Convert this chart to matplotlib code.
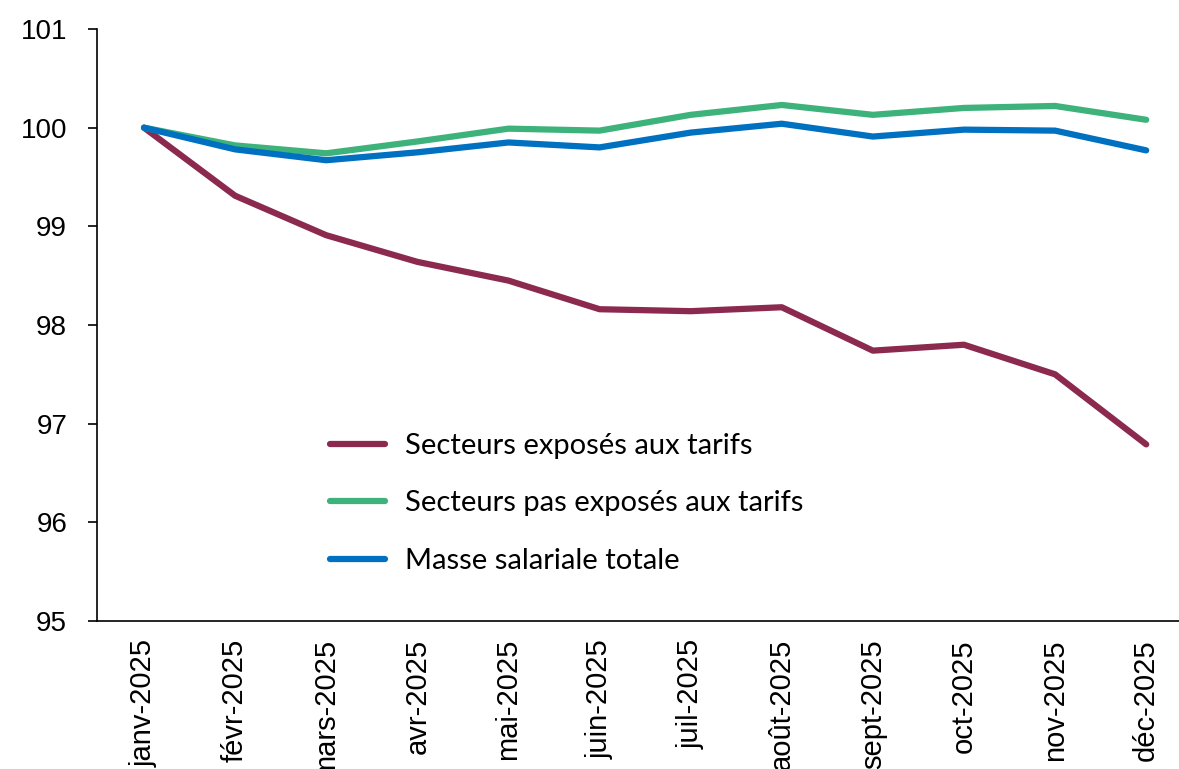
import numpy as np
import matplotlib.pyplot as plt

plt.rcParams['font.family'] = ['Liberation Sans', 'DejaVu Sans']

mois = ['janv-2025', 'févr-2025', 'mars-2025', 'avr-2025', 'mai-2025', 'juin-2025',
        'juil-2025', 'août-2025', 'sept-2025', 'oct-2025', 'nov-2025', 'déc-2025']

exposes = [100.0, 99.31, 98.91, 98.64, 98.45, 98.16, 98.14, 98.18, 97.74, 97.80, 97.50, 96.79]
non_exposes = [100.0, 99.82, 99.74, 99.86, 99.99, 99.97, 100.13, 100.23, 100.13, 100.20, 100.22, 100.08]
total = [100.0, 99.78, 99.67, 99.75, 99.85, 99.80, 99.95, 100.04, 99.91, 99.98, 99.97, 99.77]

fig = plt.figure(figsize=(11.79, 7.69), dpi=100)
ax = fig.add_axes([97 / 1179, 1 - 621 / 769, (1179 - 97) / 1179, (621 - 29) / 769])

x = np.arange(len(mois))
ax.plot(x, exposes, color='#8B2A4E', lw=4.5, solid_capstyle='round', label='Secteurs exposés aux tarifs')
ax.plot(x, non_exposes, color='#3DB27A', lw=4.5, solid_capstyle='round', label='Secteurs pas exposés aux tarifs')
ax.plot(x, total, color='#0070C0', lw=4.5, solid_capstyle='round', label='Masse salariale totale')

ax.set_ylim(95, 101)
ax.set_yticks(range(95, 102))
ax.set_xlim(-0.516, 11.36)
ax.set_xticks(x)
ax.set_xticklabels(mois, rotation=90, fontsize=21)
ax.tick_params(axis='y', labelsize=20, length=6.5, width=1.2, pad=15)
ax.tick_params(axis='x', length=0, pad=13)

for s in ['top', 'right']:
    ax.spines[s].set_visible(False)
ax.spines['left'].set_linewidth(1.2)
ax.spines['bottom'].set_linewidth(1.2)

ax.legend(loc='upper left', bbox_to_anchor=(0.2153, 0.318), frameon=False,
          borderpad=0, borderaxespad=0,
          prop={'family': 'Lato', 'size': 21},
          handlelength=1.9, labelspacing=1.08, handletextpad=0.69)

fig.savefig('out.png', dpi=100)
